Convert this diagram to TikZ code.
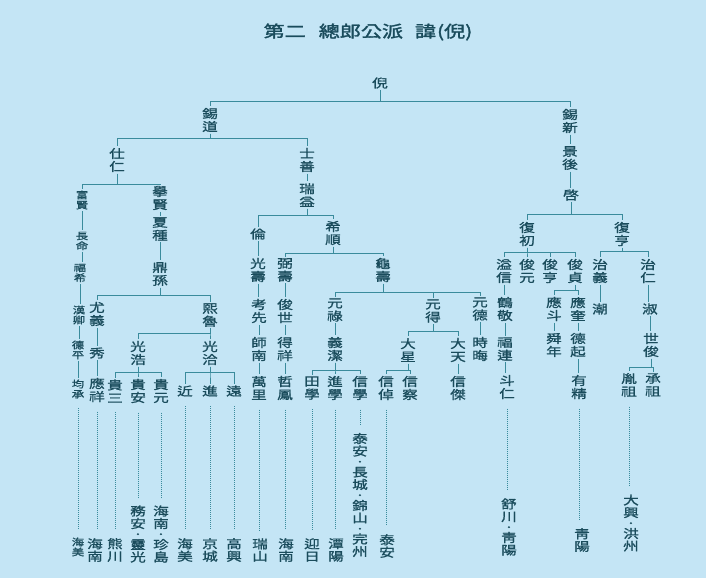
\documentclass[tikz,border=0pt]{standalone}
\usepackage{fontspec}
\newfontfamily\cjk{Noto Sans CJK KR}[FakeStretch=1.3,FakeBold=1.2]
\newfontfamily\cjkt{Noto Sans CJK KR}[FakeStretch=1.3,FakeBold=1.8]
\definecolor{bg}{HTML}{C4E5F5}
\definecolor{ink}{HTML}{1A4C5C}
\definecolor{wire}{HTML}{3A8B9C}
\newcommand\fN{\cjk\fontsize{12}{13}\selectfont}
\newcommand\fS{\cjk\fontsize{9.5}{10}\selectfont}
\newcommand\fB{\cjk\fontsize{12}{12.5}\selectfont}
\tikzset{
  nm/.style={inner sep=1.5pt, align=center, font=\fN, text=ink},
  sm/.style={inner sep=1.5pt, align=center, font=\fS, text=ink},
  bt/.style={inner sep=1.5pt, align=center, font=\fB, text=ink},
  ln/.style={draw=wire, line width=0.9pt},
  dt/.style={draw=wire, line width=0.9pt, dash pattern=on 0.9pt off 1.1pt, shorten <=8pt, shorten >=7pt}
}
\newcommand\kin[3]{\foreach \c in {#2}{\draw[ln] (#1.south) -- (#1.south |- 0,#3) -| (\c.north);}}
\newcommand\lk[2]{\draw[ln] (#1.south) -- (#1.south |- #2.north);}
\newcommand\dl[2]{\draw[dt] (#1.south) -- (#1.south |- #2.north);}
\begin{document}
\begin{tikzpicture}[x=1pt,y=-1pt]
\useasboundingbox (0,0) rectangle (706,578);
\fill[bg] (0,0) rectangle (706,578);
% title
\node[text=ink, font=\cjkt\fontsize{16.2}{17}\selectfont, inner sep=0pt] (t) at (368,32) {第二\hspace{13pt}總郎公派\hspace{12pt}諱\hspace{1pt}(倪)};
% top
\node[nm] (n0) at (380,83) {倪};
\node[nm] (a1) at (210,120) {錫\\道};
\node[nm] (b1) at (570,121) {錫\\新};
\node[nm] (b2) at (570,158) {景\\後};
\node[nm] (b3) at (571,195) {啓};
\node[nm] (a2) at (117,160) {仕\\仁};
\node[nm] (a3) at (307,160) {士\\善};
\node[nm] (a4) at (307,195) {瑞\\益};
% left small column
\node[sm] (l1) at (82,200) {富\\賢};
\node[sm] (l2) at (82,241) {長\\命};
\node[sm] (l3) at (80,273) {福\\希};
\node[sm] (l4) at (79,315) {漢\\卿};
\node[sm] (l5) at (78,350) {德\\平};
\node[sm] (l6) at (78,389) {均\\承};
\node[nm] (m1) at (160,198) {擧\\賢};
\node[nm] (m2) at (160,229) {夏\\種};
\node[nm] (m3) at (160,274) {鼎\\孫};
\node[nm] (p1) at (97,314) {尤\\義};
\node[nm] (p2) at (97,353) {秀};
\node[nm] (p3) at (97,390) {應\\祥};
\node[nm] (q1) at (210,315) {熙\\魯};
\node[nm] (q2) at (138,353) {光\\浩};
\node[nm] (q3) at (210,353) {光\\洽};
\node[nm] (g1) at (115,391) {貴\\三};
\node[nm] (g2) at (138,391) {貴\\安};
\node[nm] (g3) at (161,391) {貴\\元};
\node[nm] (g4) at (185,391) {近};
\node[nm] (g5) at (210,391) {進};
\node[nm] (g6) at (234,391) {遠};
% middle
\node[nm] (r1) at (258,234) {倫};
\node[nm] (r2) at (258,270) {光\\壽};
\node[nm] (r3) at (259,311) {考\\先};
\node[nm] (r4) at (259,349) {師\\南};
\node[nm] (r5) at (259,388) {萬\\里};
\node[nm] (s0) at (333,233) {希\\順};
\node[nm] (s1) at (285,270) {弼\\壽};
\node[nm] (s2) at (285,311) {俊\\世};
\node[nm] (s3) at (285,349) {得\\祥};
\node[nm] (s4) at (285,388) {哲\\鳳};
\node[nm] (u0) at (383,270) {龜\\壽};
\node[nm] (u1) at (335,310) {元\\祿};
\node[nm] (u2) at (335,349) {義\\潔};
\node[nm] (u3) at (312,388) {田\\學};
\node[nm] (u4) at (335,388) {進\\學};
\node[nm] (u5) at (360,388) {信\\學};
\node[nm] (v0) at (433,311) {元\\得};
\node[nm] (v1) at (408,350) {大\\星};
\node[nm] (v2) at (458,350) {大\\天};
\node[nm] (v3) at (386,388) {信\\倬};
\node[nm] (v4) at (410,388) {信\\察};
\node[nm] (v5) at (458,388) {信\\傑};
\node[nm] (w1) at (480,309) {元\\德};
\node[nm] (w2) at (480,349) {時\\晦};
% right
\node[nm] (c1) at (527,234) {復\\初};
\node[nm] (c2) at (622,234) {復\\亨};
\node[nm] (d1) at (504,271) {溢\\信};
\node[nm] (d2) at (527,271) {俊\\元};
\node[nm] (d3) at (550,271) {俊\\亨};
\node[nm] (d4) at (575,271) {俊\\貞};
\node[nm] (e1) at (505,309) {鶴\\敬};
\node[nm] (e2) at (505,349) {福\\連};
\node[nm] (e3) at (507,387) {斗\\仁};
\node[nm] (f1) at (554,309) {應\\斗};
\node[nm] (f2) at (578,309) {應\\奎};
\node[nm] (f3) at (554,345) {舜\\年};
\node[nm] (f4) at (578,345) {德\\起};
\node[nm] (f5) at (579,387) {有\\精};
\node[nm] (h1) at (600,271) {治\\義};
\node[nm] (h2) at (648,271) {治\\仁};
\node[nm] (h3) at (600,309) {潮};
\node[nm] (h4) at (650,309) {淑};
\node[nm] (h5) at (651,345) {世\\俊};
\node[nm] (h6) at (629,385) {胤\\祖};
\node[nm] (h7) at (653,385) {承\\祖};
% bottom labels
\node[sm] (z1) at (78,547) {海\\美};
\node[bt] (z2) at (95,550) {海\\南};
\node[bt] (z3) at (115,550) {熊\\川};
\node[bt] (z4) at (138,534) {務\\安\\[-2pt]·\\[-2pt]靈\\光};
\node[bt] (z5) at (161,534) {海\\南\\[-2pt]·\\[-2pt]珍\\島};
\node[bt] (z6) at (185,550) {海\\美};
\node[bt] (z7) at (210,550) {京\\城};
\node[bt] (z8) at (234,550) {高\\興};
\node[bt] (z9) at (260,550) {瑞\\山};
\node[bt] (z10) at (286,550) {海\\南};
\node[bt] (z11) at (312,550) {迎\\日};
\node[bt] (z12) at (336,550) {潭\\陽};
\node[bt] (z13) at (360,495) {泰\\安\\[-2pt]·\\[-2pt]長\\城\\[-2pt]·\\[-2pt]錦\\山\\[-2pt]·\\[-2pt]完\\州};
\node[bt] (z14) at (387,546) {泰\\安};
\node[bt] (z15) at (509,527) {舒\\川\\[-2pt]·\\[-2pt]靑\\陽};
\node[bt] (z16) at (582,540) {靑\\陽};
\node[bt] (z17) at (631,523) {大\\興\\[-2pt]·\\[-2pt]洪\\州};
% families
\kin{n0}{a1,b1}{101}
\kin{a1}{a2,a3}{138}
\kin{a2}{l1,m1}{184}
\kin{m3}{p1,q1}{295}
\kin{q1}{q2,q3}{333}
\kin{q2}{g1,g2,g3}{372}
\kin{q3}{g4,g5,g6}{372}
\kin{a4}{r1,s0}{215}
\kin{s0}{s1,u0}{253}
\kin{u0}{u1,v0,w1}{292}
\kin{u2}{u3,u4,u5}{370}
\kin{v0}{v1,v2}{331}
\kin{v1}{v3,v4}{370}
\kin{b3}{c1,c2}{214}
\kin{c1}{d1,d2,d3,d4}{252}
\kin{d4}{f1,f2}{290}
\kin{c2}{h1,h2}{251}
\kin{h5}{h6,h7}{367}
% chains
\lk{l1}{l2}\lk{l2}{l3}\lk{l3}{l4}\lk{l4}{l5}\lk{l5}{l6}
\lk{m1}{m2}\lk{m2}{m3}
\lk{p1}{p2}\lk{p2}{p3}
\lk{a3}{a4}
\lk{r1}{r2}\lk{r2}{r3}\lk{r3}{r4}\lk{r4}{r5}
\lk{s1}{s2}\lk{s2}{s3}\lk{s3}{s4}
\lk{u1}{u2}
\lk{w1}{w2}
\lk{v2}{v5}
\lk{b1}{b2}\lk{b2}{b3}
\lk{d1}{e1}\lk{e1}{e2}\lk{e2}{e3}
\lk{f1}{f3}
\lk{f2}{f4}\lk{f4}{f5}
\lk{h1}{h3}
\lk{h2}{h4}\lk{h4}{h5}
% dotted
\dl{l6}{z1}\dl{p3}{z2}\dl{g1}{z3}\dl{g2}{z4}\dl{g3}{z5}
\dl{g4}{z6}\dl{g5}{z7}\dl{g6}{z8}\dl{r5}{z9}\dl{s4}{z10}
\dl{u3}{z11}\dl{u4}{z12}\dl{u5}{z13}\dl{v3}{z14}
\dl{e3}{z15}\dl{f5}{z16}\dl{h6}{z17}
\end{tikzpicture}
\end{document}
